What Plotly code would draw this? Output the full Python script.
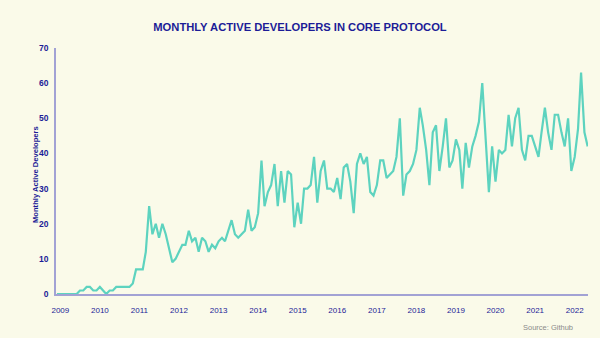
import pandas as pd
import plotly.graph_objects as go

# Monthly active developers (monthly series, Dec 2008 .. May 2022)
start_month = "2008-12-01"
developers = [
    0, 0, 0, 0, 0, 0, 0,
    1, 1, 2, 2, 1, 1, 2, 1, 0, 1, 1, 2, 2, 2, 2, 2, 3, 7, 7, 7, 12,
    25, 17, 20, 16, 20, 17, 13, 9, 10, 12, 14, 14, 18, 15, 16, 12, 16, 15,
    12, 14, 13, 15, 16, 15, 18, 21, 17, 16, 17, 18, 24, 18, 19, 23,
    38, 25, 29, 31, 37, 25, 35, 26, 35, 34, 19, 26, 20, 30, 30, 31, 39, 26,
    35, 38, 30, 30, 29, 33, 27, 36, 37, 32, 23, 37, 40, 37, 39, 29, 28, 31,
    38, 38, 33, 34, 35, 39, 50, 28, 34, 35, 37, 41, 53, 48, 41, 31, 46, 48,
    35, 42, 50, 36, 38, 44, 41, 30, 43, 36, 42, 45, 49, 60, 45, 29, 42, 32,
    41, 40, 41, 51, 42, 50, 53, 41, 38, 45, 45, 42, 39, 46, 53, 46, 41, 51,
    51, 46, 42, 50, 35, 39, 47, 63, 46, 42,
]
year_labels = ["2009", "2010", "2011", "2012", "2013", "2014", "2015",
               "2016", "2017", "2018", "2019", "2020", "2021", "2022"]
y_ticks = [0, 10, 20, 30, 40, 50, 60, 70]

months = pd.date_range(start_month, periods=len(developers), freq="MS")
tick_dates = [pd.Timestamp(f"{y}-01-01") for y in year_labels]

BG = "#fafae9"
NAVY = "#1c1c97"
AXIS = "#a2a2d4"
LINE = "#5dd3bf"

W, H = 600, 338
L, R, T, B = 56, 12, 48, 44
pw = W - L - R
ph = H - T - B

x_start = months[0] - pd.Timedelta(days=9)
x_end = months[-1] + pd.Timedelta(days=3)

fig = go.Figure()
fig.add_trace(go.Scatter(
    x=months, y=developers, mode="lines",
    line=dict(color=LINE, width=2.2),
    hoverinfo="skip",
))

fig.update_layout(
    width=W, height=H,
    margin=dict(l=L, r=R, t=T, b=B),
    paper_bgcolor=BG, plot_bgcolor=BG,
    showlegend=False,
    title=dict(
        text="<b>MONTHLY ACTIVE DEVELOPERS IN CORE PROTOCOL</b>",
        x=0.5, xanchor="center", xref="container",
        y=1 - 27.5 / H, yanchor="middle", yref="container",
        font=dict(family="Liberation Sans, Arial, sans-serif", size=11.2, color=NAVY),
    ),
    xaxis=dict(
        range=[x_start, x_end],
        tickvals=tick_dates, ticktext=year_labels,
        showgrid=False, zeroline=False,
        showline=True, linecolor=AXIS, linewidth=1.5,
        ticks="", ticklabelstandoff=8,
        tickfont=dict(family="Liberation Sans, Arial, sans-serif", size=8, color=NAVY),
    ),
    yaxis=dict(
        range=[0, 70],
        tickvals=y_ticks,
        showgrid=False, zeroline=False,
        showline=True, linecolor=AXIS, linewidth=1.5,
        ticks="", ticklabelstandoff=4,
        tickfont=dict(family="Liberation Sans, Arial, sans-serif", size=8.5, color=NAVY,
                      weight="bold"),
    ),
)

fig.add_annotation(
    text="<b>Monthly Active Developers</b>",
    xref="paper", yref="paper",
    x=(35 - L) / pw, y=(H - B - 175) / ph,
    xanchor="center", yanchor="middle", textangle=-90, showarrow=False,
    font=dict(family="Liberation Sans, Arial, sans-serif", size=7.6, color=NAVY),
)
fig.add_annotation(
    text="Source: Github",
    xref="paper", yref="paper",
    x=(575 - L) / pw, y=(H - B - 327.5) / ph,
    xanchor="right", yanchor="middle", showarrow=False,
    font=dict(family="Liberation Sans, Arial, sans-serif", size=7.5, color="#8a8a8a"),
)

fig.write_html("out.html")
